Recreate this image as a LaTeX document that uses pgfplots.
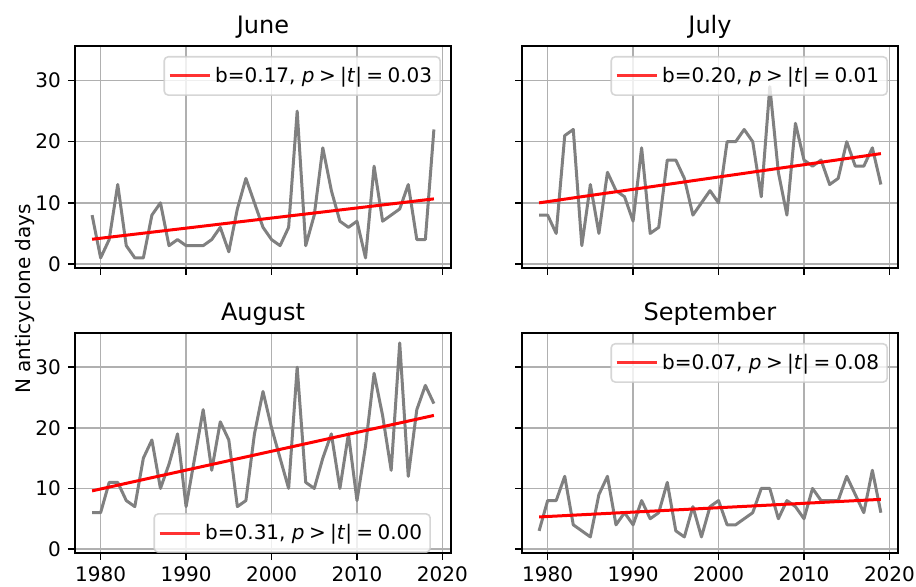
\documentclass[border=0pt]{standalone}
\usepackage{fontspec}
\setmainfont{DejaVu Sans}
\usepackage{pgfplots}
\usepackage{pgfplotstable}
\pgfplotsset{compat=1.18}
\definecolor{gridc}{HTML}{B0B0B0}
\definecolor{legc}{HTML}{CCCCCC}
\definecolor{seriesc}{HTML}{808080}
\definecolor{mplred}{HTML}{FF0000}

\pgfplotstableread{
year jun jul aug sep
1979 8 8 6 3
1980 1 8 6 8
1981 4 5 11 8
1982 13 21 11 12
1983 3 22 8 4
1984 1 3 7 3
1985 1 13 15 2
1986 8 5 18 9
1987 10 15 10 12
1988 3 12 14 4
1989 4 11 19 6
1990 3 7 7 4
1991 3 19 15 8
1992 3 5 23 5
1993 4 6 13 6
1994 6 17 21 11
1995 2 17 18 3
1996 9 14 7 2
1997 14 8 8 7
1998 10 10 19 2
1999 6 12 26 7
2000 4 10 20 8
2001 3 20 15 4
2002 6 20 10 4
2003 25 22 30 5
2004 3 20 11 6
2005 8 11 10 10
2006 19 29 15 10
2007 12 15 19 5
2008 7 8 10 8
2009 6 23 19 7
2010 7 17 8 5
2011 1 16 17 10
2012 16 17 29 8
2013 7 13 22 8
2014 8 14 13 8
2015 9 20 34 12
2016 13 16 12 9
2017 4 16 23 6
2018 4 19 27 13
2019 22 13 24 6
}\datatable

\newcommand{\rs}{\hspace{2.2pt}}
\pgfplotsset{
  panel/.style={
    scale only axis, width=188pt, height=111pt,
    xmin=1977, xmax=2021, ymin=-0.65, ymax=35.65,
    xtick={1980,1990,2000,2010,2020}, ytick={0,10,20,30},
    xticklabels={1980,1990,2000,2010,2020},
    grid=major, major grid style={color=gridc, line width=0.8pt},
    axis line style={line width=0.8pt},
    every tick/.style={black, line width=0.8pt},
    major tick length=3.5pt, tick align=outside,
    xtick pos=left, ytick pos=left,
    tick label style={font=\fontsize{10}{12}\selectfont},
    /pgf/number format/assume math mode=true,
    title style={at={(0.5,1)}, anchor=base, font=\fontsize{12}{14}\selectfont},
    legend style={at={(1,1)}, anchor=north east, xshift=-5pt, yshift=-5pt,
      draw=legc, line width=0.8pt, rounded corners=2pt, fill=white,
      fill opacity=0.8, draw opacity=0.8, text opacity=1,
      font=\fontsize{10}{12}\selectfont, inner xsep=2pt, inner ysep=3pt},
    legend cell align=left,
    legend image code/.code={\draw[##1] (0pt,0pt) -- (20pt,0pt);},
  },
  series/.style={color=seriesc, line width=1.5pt, line join=round},
  trend/.style={color=mplred, line width=1.5pt},
}

\begin{document}
\begin{tikzpicture}
\useasboundingbox (0,0) rectangle (458pt,293.5pt);

\begin{axis}[panel, at={(37.5pt,270.5pt)}, anchor=north west, title={June}, xticklabels={}]
\addplot[series, forget plot] table[x=year, y=jun] {\datatable};
\addplot[trend] coordinates {(1979,4.05) (2019,10.65)};
\addlegendentry{b=0.17, \textit{p}\rs>\rs|\textit{t}|\rs=\rs0.03}
\end{axis}

\begin{axis}[panel, at={(261pt,270.5pt)}, anchor=north west, title={July}, xticklabels={}, yticklabels={}]
\addplot[series, forget plot] table[x=year, y=jul] {\datatable};
\addplot[trend] coordinates {(1979,10.0) (2019,18.05)};
\addlegendentry{b=0.20, \textit{p}\rs>\rs|\textit{t}|\rs=\rs0.01}
\end{axis}

\begin{axis}[panel, height=110pt, at={(37.5pt,127pt)}, anchor=north west, title={August},
  legend style={at={(1,0)}, anchor=south east, xshift=-5pt, yshift=5pt}]
\addplot[series, forget plot] table[x=year, y=aug] {\datatable};
\addplot[trend] coordinates {(1979,9.6) (2019,22.05)};
\addlegendentry{b=0.31, \textit{p}\rs>\rs|\textit{t}|\rs=\rs0.00}
\end{axis}

\begin{axis}[panel, height=110pt, at={(261pt,127pt)}, anchor=north west, title={September}, yticklabels={}]
\addplot[series, forget plot] table[x=year, y=sep] {\datatable};
\addplot[trend] coordinates {(1979,5.3) (2019,8.2)};
\addlegendentry{b=0.07, \textit{p}\rs>\rs|\textit{t}|\rs=\rs0.08}
\end{axis}

\node[rotate=90, anchor=base, font=\fontsize{10}{12}\selectfont] at (15pt,144pt) {N anticyclone days};
\end{tikzpicture}
\end{document}
